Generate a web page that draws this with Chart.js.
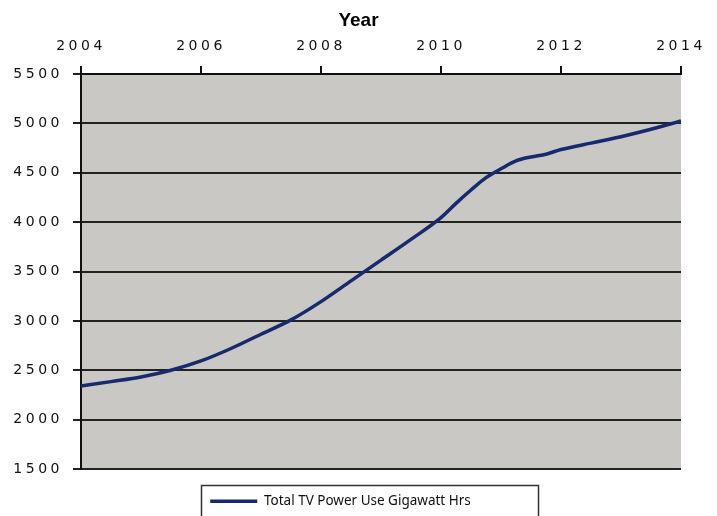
<!DOCTYPE html>
<html>
<head>
<meta charset="utf-8">
<script src="https://cdn.jsdelivr.net/npm/chart.js@4/dist/chart.umd.min.js"></script>
<style>
  html, body { margin: 0; padding: 0; background: #ffffff; }
  #wrap { width: 717px; height: 516px; position: relative; }
</style>
</head>
<body>
<div id="wrap"><canvas id="chart" width="717" height="516"></canvas></div>
<script>
// Projected yearly television power consumption
const years = [2004, 2004.5, 2005, 2005.5, 2006, 2006.5, 2007, 2007.5, 2008, 2008.5,
  2009, 2009.5, 2010, 2010.25, 2010.5, 2010.75, 2011, 2011.25, 2011.5, 2011.75,
  2012, 2012.5, 2013, 2013.5, 2014];
const powerUse = [2340, 2385, 2432, 2500, 2594, 2720, 2865, 3010, 3195, 3405,
  3615, 3825, 4045, 4190, 4325, 4450, 4540, 4620, 4660, 4688,
  4735, 4800, 4865, 4940, 5025];
const seriesName = 'Total TV Power Use Gigawatt Hrs';
const axisTitle = 'Year';
const xTicks = [2004, 2006, 2008, 2010, 2012, 2014];
const yTicks = [1500, 2000, 2500, 3000, 3500, 4000, 4500, 5000, 5500];

const points = years.map((yr, i) => ({ x: yr, y: powerUse[i] }));

const TICK_SPACING = '3.5px';

// Grey plot background, spaced-out tick labels, legend frame
const chartDecor = {
  id: 'chartDecor',
  afterLayout(chart) {
    const lg = chart.legend;
    if (lg) { lg.top += 2; }
    const tb = chart.titleBlock;
    if (tb) { tb.right += 36; }
    Object.values(chart.scales).forEach(scale => {
      if (scale._spacedLabels) return;
      const orig = scale.drawLabels;
      scale.drawLabels = function (area) {
        const ctx = this.ctx;
        ctx.save();
        ctx.letterSpacing = TICK_SPACING;
        orig.call(this, area);
        ctx.restore();
      };
      scale._spacedLabels = true;
    });
  },
  beforeDraw(chart) {
    const { ctx, chartArea: a } = chart;
    ctx.save();
    ctx.fillStyle = '#c9c8c4';
    ctx.fillRect(a.left, a.top, a.right - a.left, a.bottom - a.top);
    ctx.restore();
  },
  afterDraw(chart) {
    const lg = chart.legend;
    if (!lg || !lg.legendHitBoxes || !lg.legendHitBoxes.length) return;
    const hb = lg.legendHitBoxes[0];
    const pad = lg.options.labels.padding;
    const fontSize = lg.options.labels.font.size;
    const x0 = (lg.left + lg.right - hb.width) / 2;
    const yc = lg.top + pad + fontSize / 2;
    const ctx = chart.ctx;
    ctx.save();
    ctx.strokeStyle = '#333333';
    ctx.lineWidth = 1.5;
    ctx.strokeRect(Math.round(x0 - 9) + 0.5, Math.round(yc - 16) + 0.5,
      Math.round(hb.width + 76), 60);
    ctx.restore();
  }
};

new Chart(document.getElementById('chart'), {
  type: 'line',
  data: {
    datasets: [{
      label: seriesName,
      data: points,
      borderColor: '#172a6e',
      backgroundColor: '#172a6e',
      borderWidth: 3.5,
      pointRadius: 0,
      pointHoverRadius: 0,
      cubicInterpolationMode: 'monotone',
      fill: false
    }]
  },
  options: {
    responsive: false,
    animation: false,
    events: [],
    layout: { padding: { left: 0, right: 36, top: 0, bottom: 0 } },
    plugins: {
      tooltip: { enabled: false },
      title: {
        display: true,
        text: axisTitle,
        color: '#000000',
        font: { family: "'Liberation Sans Narrow', 'Liberation Sans', Arial, sans-serif", size: 19, weight: 'bold' },
        padding: { top: 9, bottom: 0 }
      },
      legend: {
        display: true,
        position: 'bottom',
        labels: {
          color: '#111111',
          font: { family: "'Noto Sans', sans-serif", size: 13.5 },
          usePointStyle: true,
          pointStyle: 'line',
          pointStyleWidth: 47,
          padding: 23.5
        }
      }
    },
    scales: {
      x: {
        type: 'linear',
        position: 'top',
        min: 2004,
        max: 2014,
        afterBuildTicks(scale) { scale.ticks = xTicks.map(v => ({ value: v })); },
        afterFit(scale) { scale.height = 74 - 31.8; },
        ticks: {
          color: '#111111',
          font: { family: "'DejaVu Sans', sans-serif", size: 14 },
          padding: 11,
          maxRotation: 0,
          autoSkip: false,
          callback: v => String(v)
        },
        grid: {
          drawOnChartArea: false,
          drawTicks: true,
          tickLength: 8,
          color: '#111111',
          lineWidth: 2
        },
        border: { display: true, color: '#111111', width: 2 }
      },
      y: {
        type: 'linear',
        min: 1500,
        max: 5500,
        afterBuildTicks(scale) { scale.ticks = yTicks.map(v => ({ value: v })); },
        afterFit(scale) { scale.width = 81; },
        ticks: {
          color: '#111111',
          font: { family: "'DejaVu Sans', sans-serif", size: 14 },
          padding: 10,
          autoSkip: false,
          callback: v => String(v)
        },
        grid: {
          drawOnChartArea: true,
          drawTicks: true,
          tickLength: 8,
          color: '#222222',
          lineWidth: 2
        },
        border: { display: true, color: '#111111', width: 2 }
      }
    }
  },
  plugins: [chartDecor]
});
</script>
</body>
</html>
